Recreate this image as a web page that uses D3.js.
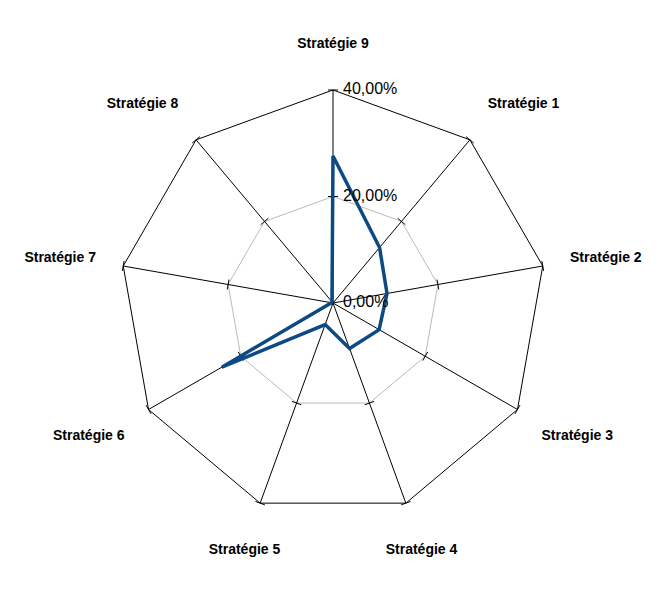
<!DOCTYPE html>
<html lang="en">
<head>
<meta charset="UTF-8">
<script src="https://d3js.org/d3.v7.min.js"></script>
<style>
  body { margin: 0; background: #fff; }
  text { font-family: "Liberation Sans", Arial, sans-serif; }
</style>
</head>
<body>
<div id="chart"></div>
<script>
  // Data
  const categories = ["Stratégie 1", "Stratégie 2", "Stratégie 3", "Stratégie 4", "Stratégie 5",
                      "Stratégie 6", "Stratégie 7", "Stratégie 8", "Stratégie 9"];
  const values = [0.136, 0.103, 0.100, 0.091, 0.043, 0.241, 0.003, 0.003, 0.276];
  const tickValues = [0, 0.2, 0.4];
  const tickLabels = ["0,00%", "20,00%", "40,00%"];

  const width = 667, height = 589;
  const cx = 333, cy = 303, R = 213;

  const svg = d3.select("#chart").append("svg")
    .attr("width", width).attr("height", height);
  const g = svg.append("g").attr("transform", `translate(${cx},${cy})`);

  const r = d3.scaleLinear().domain([0, 0.4]).range([0, R]);
  const n = categories.length;
  // Stratégie 9 at top, others clockwise
  const angle = i => ((i + 1) % n) * 2 * Math.PI / n;
  const pt = (i, v) => [Math.sin(angle(i)) * r(v), -Math.cos(angle(i)) * r(v)];

  // rings
  tickValues.slice(1).forEach(t => {
    g.append("polygon")
      .attr("points", categories.map((c, i) => pt(i, t).join(",")).join(" "))
      .attr("fill", "none")
      .attr("stroke", t === 0.4 ? "#000" : "#bbb")
      .attr("stroke-width", 1);
  });

  // spokes + tick marks + labels
  categories.forEach((c, i) => {
    const [x, y] = pt(i, 0.4);
    g.append("line").attr("x1", 0).attr("y1", 0).attr("x2", x).attr("y2", y)
      .attr("stroke", "#000").attr("stroke-width", 1);
    const a = angle(i);
    tickValues.slice(1).forEach(t => {
      const [px, py] = pt(i, t);
      const ox = Math.cos(a) * 5, oy = Math.sin(a) * 5;
      g.append("line").attr("x1", px - ox).attr("y1", py - oy).attr("x2", px + ox).attr("y2", py + oy)
        .attr("stroke", "#000").attr("stroke-width", 1);
    });
    const s = Math.sin(a);
    const anchor = Math.abs(s) < 0.5 ? "middle" : (s > 0 ? "start" : "end");
    const lx = anchor === "middle" ? pt(i, 0.4 * 1.215)[0] : pt(i, 0.4 * 1.13)[0];
    const ly = pt(i, 0.4 * 1.215)[1] + (Math.cos(a) < -0.3 ? 4 : 0);
    g.append("text").attr("x", lx).attr("y", ly)
      .attr("text-anchor", anchor).attr("dominant-baseline", "middle")
      .style("font-size", "14px").style("font-weight", "bold")
      .text(c);
  });

  // data line
  g.append("path")
    .datum(values)
    .attr("d", d3.line().x((d, i) => pt(i, d)[0]).y((d, i) => pt(i, d)[1]).curve(d3.curveLinearClosed))
    .attr("fill", "none").attr("stroke", "#0c4a84").attr("stroke-width", 3.5)
    .attr("stroke-linejoin", "miter");

  // tick labels on vertical axis
  tickValues.forEach((t, k) => {
    g.append("text").attr("x", 10).attr("y", -r(t))
      .attr("dominant-baseline", "middle")
      .style("font-size", "16px")
      .text(tickLabels[k]);
  });
</script>
</body>
</html>
